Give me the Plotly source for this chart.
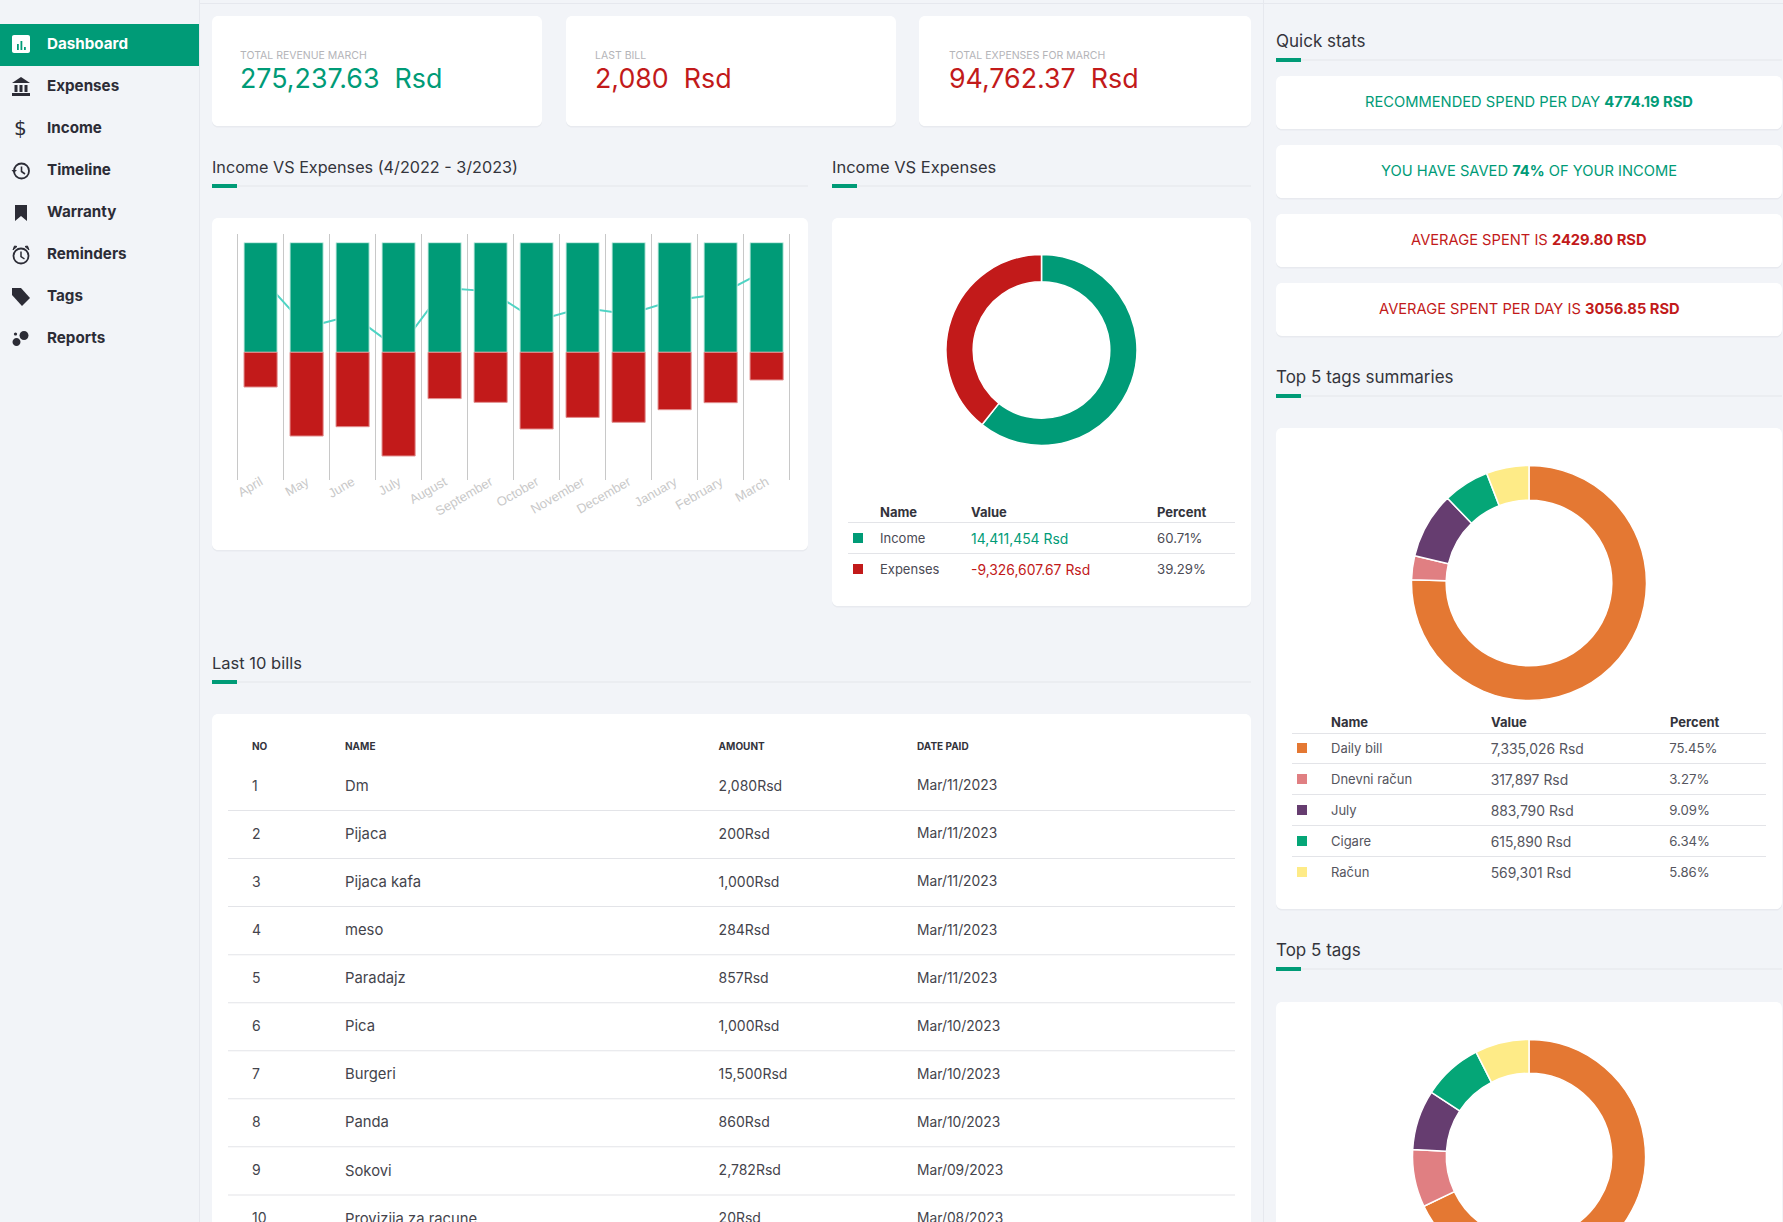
import re
import plotly.graph_objects as go

W, H = 1783, 1290  # the page is cut at 1222 px, the last donut runs past it

# ---------- data ----------
months = ["April", "May", "June", "July", "August", "September", "October",
          "November", "December", "January", "February", "March"]
# no y axis in the picture: values read relative to the income bar = 100
income_rel = [100] * 12
expense_rel = [-31.6, -76.3, -67.8, -94.5, -42.2, -45.6, -69.9, -59.3, -63.8, -52.3, -45.9, -25.2]
saved_rel = [69, 22.8, 33.7, 2.7, 58.7, 55.6, 28.9, 40.7, 34.7, 47.4, 53.2, 75]

ie_names = ["Income", "Expenses"]
ie_values = [14411454, 9326607.67]
ie_shown = ["14,411,454 Rsd", "-9,326,607.67 Rsd"]
ie_percent = ["60.71%", "39.29%"]

tag_names = ["Daily bill", "Dnevni račun", "July", "Cigare", "Račun"]
tag_values = [7335026, 317897, 883790, 615890, 569301]
tag_shown = ["7,335,026 Rsd", "317,897 Rsd", "883,790 Rsd", "615,890 Rsd", "569,301 Rsd"]
tag_percent = ["75.45%", "3.27%", "9.09%", "6.34%", "5.86%"]
top_tag_share = [67.9, 8.0, 8.3, 8.3, 7.5]
legend_heads = ["Name", "Value", "Percent"]

bill_no = ["1", "2", "3", "4", "5", "6", "7", "8", "9", "10"]
bill_name = ["Dm", "Pijaca", "Pijaca kafa", "meso", "Paradajz", "Pica", "Burgeri", "Panda", "Sokovi", "Provizija za racune"]
bill_amount = ["2,080Rsd", "200Rsd", "1,000Rsd", "284Rsd", "857Rsd", "1,000Rsd", "15,500Rsd", "860Rsd", "2,782Rsd", "20Rsd"]
bill_date = ["Mar/11/2023", "Mar/11/2023", "Mar/11/2023", "Mar/11/2023", "Mar/11/2023",
             "Mar/10/2023", "Mar/10/2023", "Mar/10/2023", "Mar/09/2023", "Mar/08/2023"]

menu = ["Dashboard", "Expenses", "Income", "Timeline", "Warranty", "Reminders", "Tags", "Reports"]
kpi_labels = ["TOTAL REVENUE MARCH", "LAST BILL", "TOTAL EXPENSES FOR MARCH"]
kpi_values = ["275,237.63  Rsd", "2,080  Rsd", "94,762.37  Rsd"]
stats = ["RECOMMENDED SPEND PER DAY <b>4774.19 RSD</b>", "YOU HAVE SAVED <b>74%</b> OF YOUR INCOME",
         "AVERAGE SPENT IS <b>2429.80 RSD</b>", "AVERAGE SPENT PER DAY IS <b>3056.85 RSD</b>"]

# ---------- style ----------
FONT = "Inter, 'Open Sans', sans-serif"
BG, GREEN, RED, INK = "#f2f4f8", "#009b77", "#c21a1a", "#3a3a44"
TAG_COLORS = ["#e47833", "#e07f82", "#663d70", "#05a677", "#feeb87"]

def fx(x): return x / W
def fy(y): return 1 - y / H

def path(d):
    def conv(m):
        x, y = float(m.group(1)), float(m.group(2))
        return f"{fx(x):.6f},{fy(y):.6f}"
    return re.sub(r"(-?[\d.]+)[ ,](-?[\d.]+)", conv, d)

def rrect(x0, y0, x1, y1, r=6):
    k = r * 0.45
    return (f"M{x0+r} {y0} L{x1-r} {y0} C{x1-k} {y0} {x1} {y0+k} {x1} {y0+r} L{x1} {y1-r} "
            f"C{x1} {y1-k} {x1-k} {y1} {x1-r} {y1} L{x0+r} {y1} C{x0+k} {y1} {x0} {y1-k} {x0} {y1-r} "
            f"L{x0} {y0+r} C{x0} {y0+k} {x0+k} {y0} {x0+r} {y0} Z")

def circle(cx, cy, r):
    k = r * 0.55
    return (f"M{cx-r} {cy} C{cx-r} {cy-k} {cx-k} {cy-r} {cx} {cy-r} C{cx+k} {cy-r} {cx+r} {cy-k} {cx+r} {cy} "
            f"C{cx+r} {cy+k} {cx+k} {cy+r} {cx} {cy+r} C{cx-k} {cy+r} {cx-r} {cy+k} {cx-r} {cy} Z")

shapes, notes = [], []

def draw(d, fill=None, line=None, width=0, layer="below"):
    shapes.append(dict(type="path", xref="paper", yref="paper", path=path(d), layer=layer,
                       fillcolor=fill or "rgba(0,0,0,0)",
                       line=dict(color=line or "rgba(0,0,0,0)", width=width)))

def box(x0, y0, x1, y1, fill, layer="below"):
    shapes.append(dict(type="rect", xref="paper", yref="paper", x0=fx(x0), x1=fx(x1), y0=fy(y0), y1=fy(y1),
                       fillcolor=fill, line=dict(width=0), layer=layer))

def card(x0, y0, x1, y1):
    draw(rrect(x0, y0 + 1, x1, y1 + 1.5), "#e8eaef")
    draw(rrect(x0, y0, x1, y1), "#ffffff")

def text(x, y, s, size, color=INK, anchor="left", bold=False, family=FONT):
    if anchor == "left":
        x -= 1
    notes.append(dict(xref="paper", yref="paper", x=fx(x), y=fy(y), text=f"<b>{s}</b>" if bold else s,
                      showarrow=False, xanchor=anchor, yanchor="middle", borderpad=0,
                      font=dict(family=family, size=size, color=color)))

def section(x0, x1, y, title, size=17):
    text(x0, y, title, size, "#34343c")
    yr = y + 18.5
    box(x0, yr, x1, yr + 1, "#e3e5ea")
    box(x0, yr - 1.5, x0 + 25, yr + 2.5, GREEN)

# ---------- page chrome ----------
box(199, 0, 200, H, "#e6e8ee")
box(1263, 0, 1264, H, "#e6e8ee")
box(200, 3, W, 4, "#e6e8ee")
box(0, 24, 199, 66, GREEN)

ys = [44, 85.5, 127.5, 169.5, 211.5, 253.5, 295.5, 337.5]
for i, (name, y) in enumerate(zip(menu, ys)):
    text(47, y, name, 15.2, "#ffffff" if i == 0 else "#2c2c36", bold=True)

# menu icons
IC = "#2c2c36"
draw(rrect(12, 35, 30, 53, 2), "#ffffff", layer="above")
for bx, by in [(17, 44), (20.5, 41), (24, 47)]:
    box(bx, by, bx + 1.8, 50, GREEN, layer="above")
draw("M21 77 L30 83 L12 83 Z", IC, layer="above")
for bx in [14.5, 19.5, 24.5]:
    box(bx, 85, bx + 3, 92, IC, layer="above")
box(12, 93, 30, 96, IC, layer="above")
text(20.5, 128, "$", 20, IC, anchor="center", family="'DejaVu Sans'")
draw(circle(21.5, 171, 7.5), None, IC, 1.8, "above")
draw("M21.5 166.5 L21.5 171.5 L25 174", None, IC, 1.6, "above")
draw("M11.5 170 L14 173 L17 170 Z", IC, layer="above")
draw("M15 205 L27 205 L27 221 L21 216 L15 221 Z", IC, layer="above")
draw(circle(21, 256, 7.5), None, IC, 1.8, "above")
draw("M21 251.5 L21 256.5 L24.5 259", None, IC, 1.5, "above")
draw("M13 250 L17 246.5 L14.5 246 Z", IC, IC, 1, "above")
draw("M29 250 L25 246.5 L27.5 246 Z", IC, IC, 1, "above")
draw("M12 288 L21 288 L30 298 L22 306 L12 295 Z", IC, layer="above")
draw(circle(16.5, 342, 4), IC, layer="above")
draw(circle(24, 335.5, 4.5), IC, layer="above")
draw(circle(15.5, 334, 1.6), IC, layer="above")

# ---------- KPI cards ----------
kx = [(212, 542), (566, 896), (919, 1251)]
kc = [GREEN, RED, RED]
kpi_text_x = [240, 594.5, 949]
for (x0, x1), tx, lab, val, col in zip(kx, kpi_text_x, kpi_labels, kpi_values, kc):
    card(x0, 16, x1, 126)
    text(tx, 55.5, lab, 10.5, "#b4b4b8")
    text(tx, 78.5, val.replace("  ", "&nbsp;&nbsp;"), 26.8, col)

# ---------- section titles and cards ----------
section(212, 808, 167, "Income VS Expenses (4/2022 - 3/2023)", 16.2)
section(832, 1251, 167, "Income VS Expenses", 16.5)
section(212, 1251, 663, "Last 10 bills", 16.5)
section(1276, 1782, 41, "Quick stats")
section(1276, 1782, 377, "Top 5 tags summaries")
section(1276, 1782, 950, "Top 5 tags")

card(212, 218, 808, 550)
card(832, 218, 1251, 606)
card(212, 714, 1251, 1300)
card(1276, 428, 1782, 909)
card(1276, 1002, 1782, 1300)

for (y0, y1), s, col in zip([(76, 129), (145, 198), (214, 267), (283, 336)], stats, [GREEN, GREEN, RED, RED]):
    card(1276, y0, 1782, y1)
    text(1529, (y0 + y1) / 2 - 0.5, s, 14.7, col, anchor="center")

# table rules, headings and colour keys
for y in [522, 553]:
    box(848, y, 1235, y + 1, "#e3e4e8")
for y, c in zip([538, 569], [GREEN, RED]):
    box(853, y - 5, 863, y + 5, c)
for x, s in zip([880, 971, 1157], legend_heads):
    text(x, 512, s, 13, "#33333b", bold=True)
for y in [733, 763, 794, 825, 856]:
    box(1292, y, 1766, y + 1, "#e3e4e8")
for y, c in zip([748, 779, 810, 841, 872], TAG_COLORS):
    box(1297, y - 5, 1307, y + 5, c)
for x, s in zip([1331, 1491, 1670], legend_heads):
    text(x, 722, s, 13, "#33333b", bold=True)
for i in range(9):
    box(228, 810 + i * 48.05, 1235, 811 + i * 48.05, "#e3e4e8")

# ---------- figure ----------
fig = go.Figure()

# line first, bars on top of it
fig.add_trace(go.Scatter(x=months, y=saved_rel, mode="lines", zorder=0,
                         line=dict(color="#4fd4c4", width=2), showlegend=False))
fig.add_trace(go.Bar(x=months, y=income_rel, zorder=1, showlegend=False,
                     marker=dict(color=GREEN, line=dict(color="#cdeee6", width=1))))
fig.add_trace(go.Bar(x=months, y=expense_rel, zorder=1, showlegend=False,
                     marker=dict(color=RED, line=dict(color="#e28f8f", width=1))))

def donut(values, colors, cx, cy, r, hole):
    fig.add_trace(go.Pie(values=values, sort=False, direction="clockwise", rotation=0, hole=hole,
                         textinfo="none", hoverinfo="none", showlegend=False,
                         domain=dict(x=[fx(cx - r), fx(cx + r)], y=[fy(cy + r), fy(cy - r)]),
                         marker=dict(colors=colors, line=dict(color="#ffffff", width=1.5))))

donut(ie_values, [GREEN, RED], 1041.5, 350, 95.5, 0.715)
donut(tag_values, TAG_COLORS, 1529, 583, 117.5, 0.705)
donut(top_tag_share, TAG_COLORS, 1529, 1156, 116.5, 0.71)

def table(x0, x1, y0, y1, widths, head, cols, colors, sizes, hh, rh, hsize):
    fig.add_trace(go.Table(
        domain=dict(x=[fx(x0), fx(x1)], y=[fy(y1), fy(y0)]), columnwidth=widths,
        header=dict(values=head, height=hh, align="left", fill_color="rgba(0,0,0,0)",
                    line=dict(width=0), font=dict(family=FONT, size=hsize, color="#33333b")),
        cells=dict(values=cols, height=rh, align="left", fill_color="rgba(0,0,0,0)",
                   line=dict(width=0), font=dict(family=FONT, size=sizes, color=colors))))

table(872, 1235, 493.5, 620, [91, 186, 86], [" ", " ", " "],
      [ie_names, ie_shown, ie_percent], ["#4a4a54", [GREEN, RED], "#4a4a54"], [13, 13.9, 13.2], 32, 31, 13)
table(1323, 1766, 703.5, 900, [160, 179, 104], [" ", " ", " "],
      [tag_names, tag_shown, tag_percent], ["#55555e", "#55555e", "#55555e"], [13, 13.9, 13.2], 32, 31, 13)
table(244, 1235, 732, 1270, [93, 373.6, 198.4, 326], ["<b>NO</b>", "<b>NAME</b>", "<b>AMOUNT</b>", "<b>DATE PAID</b>"],
      [bill_no, bill_name, bill_amount, bill_date], ["#44444c"] * 4, [14, 14.8, 14, 13.8], 40, 48.05, 10)

fig.update_layout(
    width=W, height=H, autosize=False, margin=dict(l=0, r=0, t=0, b=0, autoexpand=False),
    paper_bgcolor=BG, plot_bgcolor="rgba(0,0,0,0)", barmode="relative", bargap=0.28,
    shapes=shapes, annotations=notes, hovermode=False,
    xaxis=dict(domain=[fx(236.2), fx(791)], type="category", categoryorder="array", categoryarray=months,
               range=[-0.53, 11.53], tickson="boundaries", showgrid=True, gridcolor="#c8c8c8", gridwidth=1,
               zeroline=False, showline=False, ticks="", tickangle=-30, ticklabelstandoff=-9,
               tickfont=dict(family="'Liberation Sans'", size=13, color="#c8c8c8")),
    yaxis=dict(domain=[fy(480), fy(234)], range=[-116.4, 107.9], visible=False, fixedrange=True),
)

fig.write_html("out.html", config=dict(displayModeBar=False),
               post_script="document.documentElement.style.overflow='hidden';"
                           "document.body.style.margin='0';document.body.style.overflow='hidden';"
                           "document.body.style.height='1222px';")
